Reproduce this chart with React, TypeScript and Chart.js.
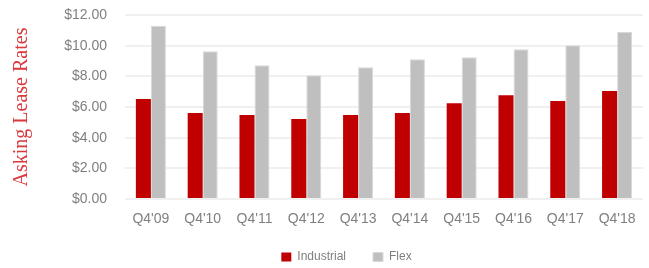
import React, { useEffect, useRef } from "react";
import { Chart, registerables } from "chart.js";

Chart.register(...registerables);

const categories = ["Q4'09", "Q4'10", "Q4'11", "Q4'12", "Q4'13", "Q4'14", "Q4'15", "Q4'16", "Q4'17", "Q4'18"];
const industrial = [6.52, 5.61, 5.48, 5.22, 5.48, 5.61, 6.24, 6.76, 6.39, 7.04];
const flex = [11.3, 9.63, 8.72, 8.07, 8.59, 9.11, 9.24, 9.76, 10.02, 10.91];
const yTicks = [0, 2, 4, 6, 8, 10, 12];
const yTitle = "Asking Lease Rates";

export default function App() {
  const ref = useRef<HTMLCanvasElement | null>(null);
  useEffect(() => {
    if (!ref.current) return;
    const legendShift = {
      id: "legendShift",
      afterLayout(chart: any) {
        const lg = chart.legend;
        if (lg) {
          lg.left += 25;
          lg.right += 25;
          lg.top -= 5;
          lg.bottom -= 5;
        }
      },
    };
    const chart = new Chart(ref.current, {
      type: "bar",
      data: {
        labels: categories,
        datasets: [
          {
            label: "Industrial",
            data: industrial,
            backgroundColor: "#C00000",
            borderColor: "#C00000",
            borderWidth: 0,
            categoryPercentage: 0.58,
            barPercentage: 1,
          },
          {
            label: "Flex",
            data: flex,
            backgroundColor: "#BFBFBF",
            borderColor: "#D9D9D9",
            borderWidth: 1,
            categoryPercentage: 0.58,
            barPercentage: 1,
          },
        ],
      },
      options: {
        responsive: false,
        animation: false,
        devicePixelRatio: 1,
        layout: { padding: { left: 0, right: 6, top: 15, bottom: -10 } },
        plugins: {
          tooltip: { enabled: false },
          legend: {
            position: "bottom",
            labels: {
              boxWidth: 10,
              boxHeight: 9,
              padding: 27,
              color: "#7F7F7F",
              font: { family: "'Liberation Sans', Arial, sans-serif", size: 12 },
            },
          },
        },
        scales: {
          x: {
            grid: { display: false, drawTicks: false },
            border: { display: false },
            ticks: {
              padding: 12,
              color: "#7F7F7F",
              font: { family: "'Liberation Sans', Arial, sans-serif", size: 14 },
            },
            afterFit(scale: any) {
              scale.height = 30;
            },
          },
          y: {
            min: 0,
            max: 12,
            afterBuildTicks(scale: any) {
              scale.ticks = yTicks.map((v) => ({ value: v }));
            },
            grid: {
              color: "#F0F0F0",
              lineWidth: 2,
              drawTicks: true,
              tickLength: 18,
              tickColor: "rgba(0,0,0,0)",
            },
            border: { display: false },
            ticks: {
              padding: 0,
              color: "#7F7F7F",
              font: { family: "'Liberation Sans', Arial, sans-serif", size: 14 },
              callback: (v: any) => "$" + Number(v).toFixed(2),
            },
            title: {
              display: true,
              text: yTitle,
              color: "#D9383C",
              padding: { top: 10, bottom: 0 },
              font: { family: "'Liberation Serif', 'Times New Roman', serif", size: 20 },
            },
            afterFit(scale: any) {
              scale.width = 125;
            },
          },
        },
      },
      plugins: [legendShift],
    });
    return () => chart.destroy();
  }, []);
  return (
    <div style={{ position: "absolute", left: 0, top: 0, width: 649, height: 268, overflow: "hidden" }}>
      <canvas ref={ref} width={649} height={268} style={{ display: "block" }} />
    </div>
  );
}
